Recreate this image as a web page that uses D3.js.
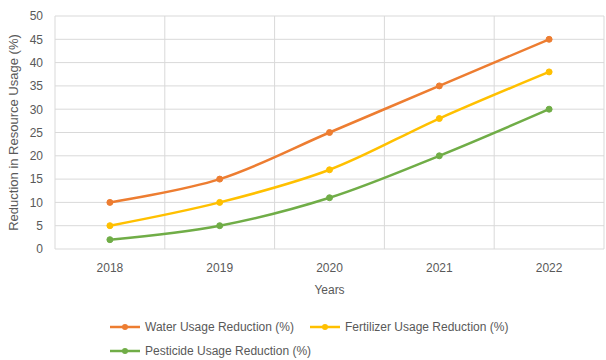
<!DOCTYPE html>
<html><head><meta charset="utf-8">
<script src="https://cdn.jsdelivr.net/npm/d3@7"></script>
<style>body{margin:0;background:#fff}svg{display:block}text{font-family:"Liberation Sans",Arial,sans-serif;fill:#595959}</style>
</head><body><svg id="c" width="606" height="360"></svg>
<script>
const years = ["2018","2019","2020","2021","2022"];
const water = [10,15,25,35,45];
const fertilizer = [5,10,17,28,38];
const pesticide = [2,5,11,20,30];
const seriesNames = ["Water Usage Reduction (%)","Fertilizer Usage Reduction (%)","Pesticide Usage Reduction (%)"];
const colors = ["#ED7D31","#FFC000","#70AD47"];
const yTicks = [0,5,10,15,20,25,30,35,40,45,50];

const svg = d3.select("#c");
const L=55,R=604,T=16,B=249;
const x = d3.scaleBand().domain(years).range([L,R]);
const y = d3.scaleLinear().domain([0,50]).range([B,T]);

// horizontal gridlines
svg.append("g").selectAll("line").data(yTicks).join("line")
  .attr("x1",L).attr("x2",R).attr("y1",d=>y(d)).attr("y2",d=>y(d))
  .attr("stroke","#d9d9d9").attr("stroke-width",1);
// vertical gridlines at band boundaries
const bounds = years.map(d=>x(d)).concat([x(years[years.length-1])+x.bandwidth()]);
svg.append("g").selectAll("line").data(bounds).join("line")
  .attr("x1",d=>d).attr("x2",d=>d).attr("y1",T).attr("y2",B)
  .attr("stroke","#d9d9d9").attr("stroke-width",1);

// y tick labels
const ya = svg.append("g").attr("transform",`translate(${L},0)`)
  .call(d3.axisLeft(y).tickValues(yTicks).tickSize(0).tickPadding(12));
ya.select(".domain").remove();
ya.selectAll("text").attr("font-size",12).attr("fill","#595959").style("font-family","Liberation Sans, Arial, sans-serif");

// x tick labels
const xa = svg.append("g").attr("transform",`translate(0,${B})`)
  .call(d3.axisBottom(x).tickSize(0).tickPadding(14));
xa.select(".domain").remove();
xa.selectAll("text").attr("font-size",12).attr("fill","#595959").style("font-family","Liberation Sans, Arial, sans-serif");

// titles
svg.append("text").attr("x",(L+R)/2).attr("y",294).attr("text-anchor","middle").attr("font-size",12).text("Years");
svg.append("text").attr("transform",`translate(18,${(T+B)/2}) rotate(-90)`).attr("text-anchor","middle").attr("font-size",13).text("Reduction in Resource Usage (%)");

// lines
const data = [water,fertilizer,pesticide];
const line = d3.line().x((d,i)=>x(years[i])+x.bandwidth()/2).y(d=>y(d)).curve(d3.curveCatmullRom.alpha(0.5));
data.forEach((s,k)=>{
  svg.append("path").datum(s).attr("d",line).attr("fill","none").attr("stroke",colors[k]).attr("stroke-width",2.5).attr("stroke-linecap","round");
  svg.append("g").selectAll("circle").data(s).join("circle")
    .attr("cx",(d,i)=>x(years[i])+x.bandwidth()/2).attr("cy",d=>y(d)).attr("r",3)
    .attr("fill",colors[k]).attr("stroke",colors[k]);
});

// legend
const legPos = [[110,327],[310,327],[110,351]];
seriesNames.forEach((n,k)=>{
  const [lx,ly]=legPos[k];
  const g=svg.append("g");
  g.append("line").attr("x1",lx).attr("x2",lx+30).attr("y1",ly).attr("y2",ly).attr("stroke",colors[k]).attr("stroke-width",2.5);
  g.append("circle").attr("cx",lx+15).attr("cy",ly).attr("r",3).attr("fill",colors[k]);
  g.append("text").attr("x",lx+35).attr("y",ly+4).attr("font-size",12).text(n);
});
</script></body></html>
